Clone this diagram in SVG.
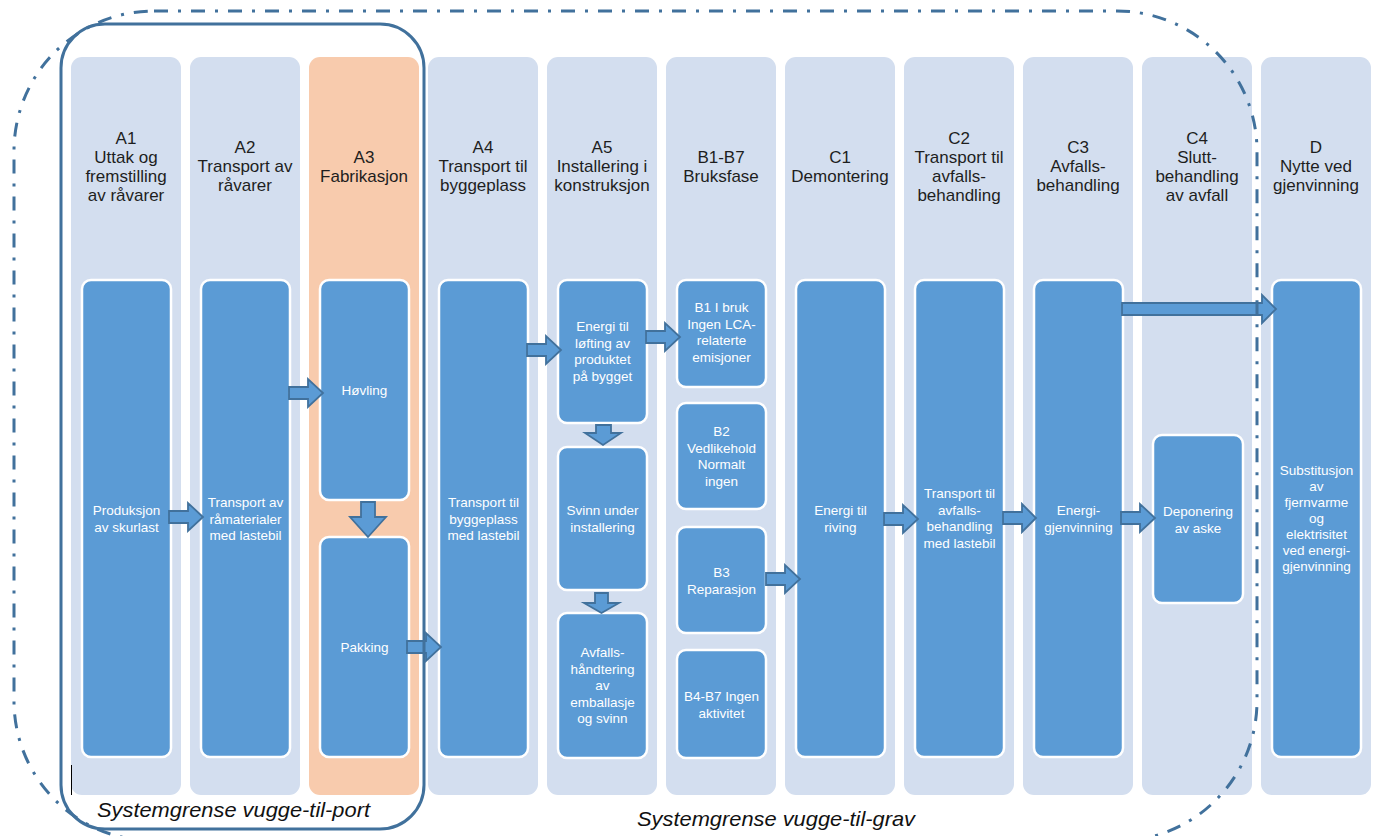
<svg xmlns="http://www.w3.org/2000/svg" width="1376" height="836" viewBox="0 0 1376 836">
<style>
.col{fill:#D3DEEF}
.colo{fill:#F8CBAD}
.box{fill:#5B9BD5;stroke:#FFFFFF;stroke-width:2.5}
.hd{font-family:"Liberation Sans",Arial,sans-serif;font-size:17px;fill:#1E1E1E;text-anchor:middle}
.bt{font-family:"Liberation Sans",Arial,sans-serif;font-size:13.5px;fill:#FFFFFF;text-anchor:middle}
.arr{fill:#5B9BD5;stroke:#41719C;stroke-width:1.8;stroke-linejoin:miter}
.lbl{font-family:"Liberation Sans",Arial,sans-serif;font-style:italic;font-size:21px;fill:#111}
</style>
<rect width="1376" height="836" fill="#FFFFFF"/>

<g id="A1">
<rect class="col" x="71" y="57" width="110" height="738" rx="11"/>
<text class="hd" x="126" y="144"><tspan x="126">A1</tspan><tspan x="126" dy="19">Uttak og</tspan><tspan x="126" dy="19">fremstilling</tspan><tspan x="126" dy="19">av råvarer</tspan></text>
<rect class="box" x="82" y="280" width="89" height="477" rx="9"/>
<text class="bt" x="126.5" y="515"><tspan x="126.5">Produksjon</tspan><tspan x="126.5" dy="16.5">av skurlast</tspan></text>
</g>

<g id="A2">
<rect class="col" x="190" y="57" width="110" height="738" rx="11"/>
<text class="hd" x="245" y="153"><tspan x="245">A2</tspan><tspan x="245" dy="19">Transport av</tspan><tspan x="245" dy="19">råvarer</tspan></text>
<rect class="box" x="201" y="280" width="89" height="477" rx="9"/>
<text class="bt" x="245.5" y="507"><tspan x="245.5">Transport av</tspan><tspan x="245.5" dy="16.5">råmaterialer</tspan><tspan x="245.5" dy="16.5">med lastebil</tspan></text>
</g>

<g id="A3">
<rect class="colo" x="309" y="57" width="110" height="738" rx="11"/>
<text class="hd" x="364" y="162.5"><tspan x="364">A3</tspan><tspan x="364" dy="19">Fabrikasjon</tspan></text>
<rect class="box" x="320" y="280" width="89" height="220" rx="9"/>
<text class="bt" x="364.5" y="395">Høvling</text>
<rect class="box" x="320" y="537" width="89" height="220" rx="9"/>
<text class="bt" x="364.5" y="652">Pakking</text>
</g>

<g id="A4">
<rect class="col" x="428" y="57" width="110" height="738" rx="11"/>
<text class="hd" x="483" y="153"><tspan x="483">A4</tspan><tspan x="483" dy="19">Transport til</tspan><tspan x="483" dy="19">byggeplass</tspan></text>
<rect class="box" x="439" y="280" width="89" height="477" rx="9"/>
<text class="bt" x="483.5" y="507"><tspan x="483.5">Transport til</tspan><tspan x="483.5" dy="16.5">byggeplass</tspan><tspan x="483.5" dy="16.5">med lastebil</tspan></text>
</g>

<g id="A5">
<rect class="col" x="547" y="57" width="110" height="738" rx="11"/>
<text class="hd" x="602" y="153"><tspan x="602">A5</tspan><tspan x="602" dy="19">Installering i</tspan><tspan x="602" dy="19">konstruksjon</tspan></text>
<rect class="box" x="558" y="280" width="89" height="143" rx="9"/>
<text class="bt" x="602.5" y="331"><tspan x="602.5">Energi til</tspan><tspan x="602.5" dy="16.5">løfting av</tspan><tspan x="602.5" dy="16.5">produktet</tspan><tspan x="602.5" dy="16.5">på bygget</tspan></text>
<rect class="box" x="558" y="447" width="89" height="143" rx="9"/>
<text class="bt" x="602.5" y="515"><tspan x="602.5">Svinn under</tspan><tspan x="602.5" dy="16.5">installering</tspan></text>
<rect class="box" x="558" y="613" width="89" height="145" rx="9"/>
<text class="bt" x="602.5" y="657"><tspan x="602.5">Avfalls-</tspan><tspan x="602.5" dy="16.5">håndtering</tspan><tspan x="602.5" dy="16.5">av</tspan><tspan x="602.5" dy="16.5">emballasje</tspan><tspan x="602.5" dy="16.5">og svinn</tspan></text>
</g>

<g id="B">
<rect class="col" x="666" y="57" width="110" height="738" rx="11"/>
<text class="hd" x="721" y="162.5"><tspan x="721">B1-B7</tspan><tspan x="721" dy="19">Bruksfase</tspan></text>
<rect class="box" x="677" y="280" width="89" height="107" rx="9"/>
<text class="bt" x="721.5" y="312"><tspan x="721.5">B1 I bruk</tspan><tspan x="721.5" dy="16.5">Ingen LCA-</tspan><tspan x="721.5" dy="16.5">relaterte</tspan><tspan x="721.5" dy="16.5">emisjoner</tspan></text>
<rect class="box" x="677" y="403" width="89" height="106" rx="9"/>
<text class="bt" x="721.5" y="436"><tspan x="721.5">B2</tspan><tspan x="721.5" dy="16.5">Vedlikehold</tspan><tspan x="721.5" dy="16.5">Normalt</tspan><tspan x="721.5" dy="16.5">ingen</tspan></text>
<rect class="box" x="677" y="527" width="89" height="106" rx="9"/>
<text class="bt" x="721.5" y="577"><tspan x="721.5">B3</tspan><tspan x="721.5" dy="16.5">Reparasjon</tspan></text>
<rect class="box" x="677" y="650" width="89" height="108" rx="9"/>
<text class="bt" x="721.5" y="701"><tspan x="721.5">B4-B7 Ingen</tspan><tspan x="721.5" dy="16.5">aktivitet</tspan></text>
</g>

<g id="C1">
<rect class="col" x="785" y="57" width="110" height="738" rx="11"/>
<text class="hd" x="840" y="162.5"><tspan x="840">C1</tspan><tspan x="840" dy="19">Demontering</tspan></text>
<rect class="box" x="796" y="280" width="89" height="477" rx="9"/>
<text class="bt" x="840.5" y="515"><tspan x="840.5">Energi til</tspan><tspan x="840.5" dy="16.5">riving</tspan></text>
</g>

<g id="C2">
<rect class="col" x="904" y="57" width="110" height="738" rx="11"/>
<text class="hd" x="959" y="144"><tspan x="959">C2</tspan><tspan x="959" dy="19">Transport til</tspan><tspan x="959" dy="19">avfalls-</tspan><tspan x="959" dy="19">behandling</tspan></text>
<rect class="box" x="915" y="280" width="89" height="477" rx="9"/>
<text class="bt" x="959.5" y="498"><tspan x="959.5">Transport til</tspan><tspan x="959.5" dy="16.5">avfalls-</tspan><tspan x="959.5" dy="16.5">behandling</tspan><tspan x="959.5" dy="16.5">med lastebil</tspan></text>
</g>

<g id="C3">
<rect class="col" x="1023" y="57" width="110" height="738" rx="11"/>
<text class="hd" x="1078" y="153"><tspan x="1078">C3</tspan><tspan x="1078" dy="19">Avfalls-</tspan><tspan x="1078" dy="19">behandling</tspan></text>
<rect class="box" x="1034" y="280" width="89" height="477" rx="9"/>
<text class="bt" x="1078.5" y="515"><tspan x="1078.5">Energi-</tspan><tspan x="1078.5" dy="16.5">gjenvinning</tspan></text>
</g>

<g id="C4">
<rect class="col" x="1142" y="57" width="110" height="738" rx="11"/>
<text class="hd" x="1197" y="144"><tspan x="1197">C4</tspan><tspan x="1197" dy="19">Slutt-</tspan><tspan x="1197" dy="19">behandling</tspan><tspan x="1197" dy="19">av avfall</tspan></text>
<rect class="box" x="1153" y="435" width="90" height="168" rx="9"/>
<text class="bt" x="1198" y="516"><tspan x="1198">Deponering</tspan><tspan x="1198" dy="16.5">av aske</tspan></text>
</g>

<g id="D">
<rect class="col" x="1261" y="57" width="110" height="738" rx="11"/>
<text class="hd" x="1316" y="153"><tspan x="1316">D</tspan><tspan x="1316" dy="19">Nytte ved</tspan><tspan x="1316" dy="19">gjenvinning</tspan></text>
<rect class="box" x="1272" y="280" width="89" height="477" rx="9"/>
<text class="bt" x="1316.5" y="475"><tspan x="1316.5">Substitusjon</tspan><tspan x="1316.5" dy="16">av</tspan><tspan x="1316.5" dy="16">fjernvarme</tspan><tspan x="1316.5" dy="16">og</tspan><tspan x="1316.5" dy="16">elektrisitet</tspan><tspan x="1316.5" dy="16">ved energi-</tspan><tspan x="1316.5" dy="16">gjenvinning</tspan></text>
</g>

<g id="connectors">
<path class="arr" d="M169,511 H188 V503 L203,517 L188,531 V523 H169 Z"/>
<path class="arr" d="M289,387 H308 V379 L323,393 L308,407 V399 H289 Z"/>
<path class="arr" d="M407,641 H426 V633 L441,647 L426,661 V653 H407 Z"/>
<path class="arr" d="M527,344 H546 V336 L561,350 L546,364 V356 H527 Z"/>
<path class="arr" d="M646,331 H665 V323 L680,337 L665,351 V343 H646 Z"/>
<path class="arr" d="M766,573 H785 V565 L800,579 L785,593 V585 H766 Z"/>
<path class="arr" d="M884,513 H903 V505 L918,519 L903,533 V525 H884 Z"/>
<path class="arr" d="M1003,512 H1022 V504 L1036,518 L1022,532 V524 H1003 Z"/>
<path class="arr" d="M1121,512 H1140 V504 L1155,518 L1140,532 V524 H1121 Z"/>
<path class="arr" d="M1122,303 H1262 V295 L1276,309 L1262,323 V315 H1122 Z"/>
<path class="arr" d="M361,502 H375 V517 H386 L368,537 L350,517 H361 Z"/>
<path class="arr" d="M596,425 H611 V433 H621 L603,445 L585,433 H596 Z"/>
<path class="arr" d="M595,593 H608 V603 H619 L601.5,613 L584,603 H595 Z"/>
</g>

<g id="boundaries">
<rect x="14" y="11" width="1243" height="830" rx="140" fill="none" stroke="#41719C" stroke-width="3" stroke-dasharray="14 10 3 10"/>
<rect x="61" y="24" width="363" height="805" rx="44" fill="none" stroke="#41719C" stroke-width="3"/>
<line x1="71.5" y1="765" x2="71.5" y2="795" stroke="#000" stroke-width="1"/>
<text class="lbl" x="97" y="817" textLength="273" lengthAdjust="spacingAndGlyphs">Systemgrense vugge-til-port</text>
<text class="lbl" x="637" y="826" textLength="278" lengthAdjust="spacingAndGlyphs">Systemgrense vugge-til-grav</text>
</g>
</svg>
